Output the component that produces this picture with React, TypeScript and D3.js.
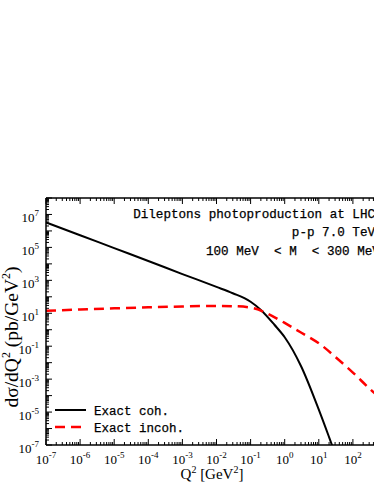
import * as d3 from "d3";

// Q^2 [GeV^2] and dsigma/dQ^2 [pb/GeV^2]
const cohQ2 = [1e-7, 1e-6, 1e-5, 1e-4, 1e-3, 1e-2, 3e-2, 1e-1, 2e-1, 5e-1, 1, 3, 10, 20, 30];
const cohVal = [3.3e6, 5.5e5, 9e4, 1.5e4, 2.4e3, 400, 165, 50, 16, 2, 0.35, 6.3e-3, 1.4e-5, 3e-7, 3e-8];

const incQ2 = [1e-7, 1e-6, 1e-5, 1e-4, 1e-3, 1e-2, 3e-2, 1e-1, 3e-1, 1, 3, 10, 30, 100, 300, 1000];
const incVal = [14, 17, 20, 23, 26, 28, 27, 22, 10, 2.6, 0.68, 0.15, 0.023, 2.5e-3, 2.8e-4, 3.2e-5];

const xDecades = d3.range(-7, 4);
const yDecades = d3.range(-7, 9);
const yLabelDecades = [-7, -5, -3, -1, 1, 3, 5, 7];
const xLabelDecades = d3.range(-7, 3);

const notes = ["Dileptons photoproduction at LHC", "p-p 7.0 TeV", "100 MeV  < M  < 300 MeV"];
const legendItems = [
  { label: "Exact coh.", color: "#000", dash: "" },
  { label: "Exact incoh.", color: "#ff0000", dash: "10,6" },
];

const W = 374;
const H = 484;
const left = 46;
const right = 387;
const top = 198;
const bottom = 445;

const serif = "'Liberation Serif', 'DejaVu Serif', serif";
const mono = "'Liberation Mono', 'DejaVu Sans Mono', monospace";

export default function App() {
  const x = d3.scaleLog().domain([1e-7, 1e3]).range([left, right]);
  const y = d3.scaleLog().domain([1e-7, 1e8]).range([bottom, top]);

  const cohLine = d3
    .line<[number, number]>()
    .x((d) => x(d[0]))
    .y((d) => y(d[1]))
    .curve(d3.curveMonotoneX);
  const incLine = d3
    .line<[number, number]>()
    .x((d) => x(d[0]))
    .y((d) => y(d[1]))
    .curve(d3.curveNatural);

  const coh = cohLine(cohQ2.map((q, i) => [q, cohVal[i]]));
  const inc = incLine(incQ2.map((q, i) => [q, incVal[i]]));

  const xTicks: { v: number; major: boolean }[] = [];
  xDecades.forEach((e) => {
    for (let k = 1; k < 10; k++) {
      const v = k * Math.pow(10, e);
      if (v <= 1e3 * 1.0001) xTicks.push({ v, major: k === 1 });
    }
  });
  const yTicks: { v: number; major: boolean }[] = [];
  yDecades.forEach((e) => {
    for (let k = 1; k < 10; k++) {
      const v = k * Math.pow(10, e);
      if (v <= 1e8 * 1.0001) yTicks.push({ v, major: k === 1 });
    }
  });

  return (
    <svg width={W} height={H} style={{ display: "block", position: "absolute", left: 0, top: 0 }}>
      <defs>
        <clipPath id="plotClip">
          <rect x={left} y={top} width={right - left} height={bottom - top} />
        </clipPath>
      </defs>

      <g clipPath="url(#plotClip)" fill="none">
        <path d={coh ?? ""} stroke="#000" strokeWidth={2} />
        <path d={inc ?? ""} stroke="#ff0000" strokeWidth={2.5} strokeDasharray="10,6" />
      </g>

      {/* frame */}
      <g stroke="#000" strokeWidth={1.5} fill="none">
        <line x1={left} x2={right} y1={top} y2={top} />
        <line x1={left} x2={right} y1={bottom} y2={bottom} />
        <line x1={left} x2={left} y1={top} y2={bottom} />
      </g>

      <g stroke="#000" strokeWidth={1}>
        {xTicks.map((t, i) => (
          <g key={"x" + i}>
            <line x1={x(t.v)} x2={x(t.v)} y1={bottom} y2={bottom - (t.major ? 6 : 3)} />
            <line x1={x(t.v)} x2={x(t.v)} y1={top} y2={top + (t.major ? 6 : 3)} />
          </g>
        ))}
        {yTicks.map((t, i) => (
          <line key={"y" + i} x1={left} x2={left + (t.major ? 6 : 3)} y1={y(t.v)} y2={y(t.v)} />
        ))}
      </g>

      <g fontFamily={serif} fill="#000">
        {xLabelDecades.map((e) => (
          <text key={"xl" + e} x={x(Math.pow(10, e))} y={464} textAnchor="middle" fontSize={13}>
            10<tspan fontSize={9} dy={-6}>{e}</tspan>
          </text>
        ))}
        {yLabelDecades.map((e) => (
          <text key={"yl" + e} x={39} y={y(Math.pow(10, e)) + 8} textAnchor="end" fontSize={13}>
            10<tspan fontSize={9} dy={-6}>{e}</tspan>
          </text>
        ))}
        <text x={212} y={479} textAnchor="middle" fontSize={15}>
          Q<tspan fontSize={10} dy={-6}>2</tspan>
          <tspan dy={6}>  [GeV</tspan>
          <tspan fontSize={10} dy={-6}>2</tspan>
          <tspan dy={6}>]</tspan>
        </text>
        <text transform="translate(18,337) rotate(-90)" textAnchor="middle" fontSize={19.5}>
          dσ/dQ<tspan fontSize={12} dy={-8}>2</tspan>
          <tspan dy={8}> (pb/GeV</tspan>
          <tspan fontSize={12} dy={-8}>2</tspan>
          <tspan dy={8}>)</tspan>
        </text>
      </g>

      <g fontFamily={mono} fontSize={12.6} fill="#000" stroke="#000" strokeWidth={0.25} style={{ whiteSpace: "pre" }}>
        <text x={375} y={218} textAnchor="end">{notes[0]}</text>
        <text x={375} y={236} textAnchor="end">{notes[1]}</text>
        <text x={206} y={255} xmlSpace="preserve">{notes[2]}</text>
      </g>

      <g fontFamily={mono} fontSize={12.5}>
        {legendItems.map((d, i) => (
          <g key={d.label} transform={`translate(0,${410 + i * 17})`}>
            <line x1={55} x2={86} y1={0} y2={0} stroke={d.color} strokeWidth={d.dash ? 2.5 : 2} strokeDasharray={d.dash} />
            <text x={94} y={4.5} fill="#000" stroke="#000" strokeWidth={0.25}>{d.label}</text>
          </g>
        ))}
      </g>
    </svg>
  );
}
